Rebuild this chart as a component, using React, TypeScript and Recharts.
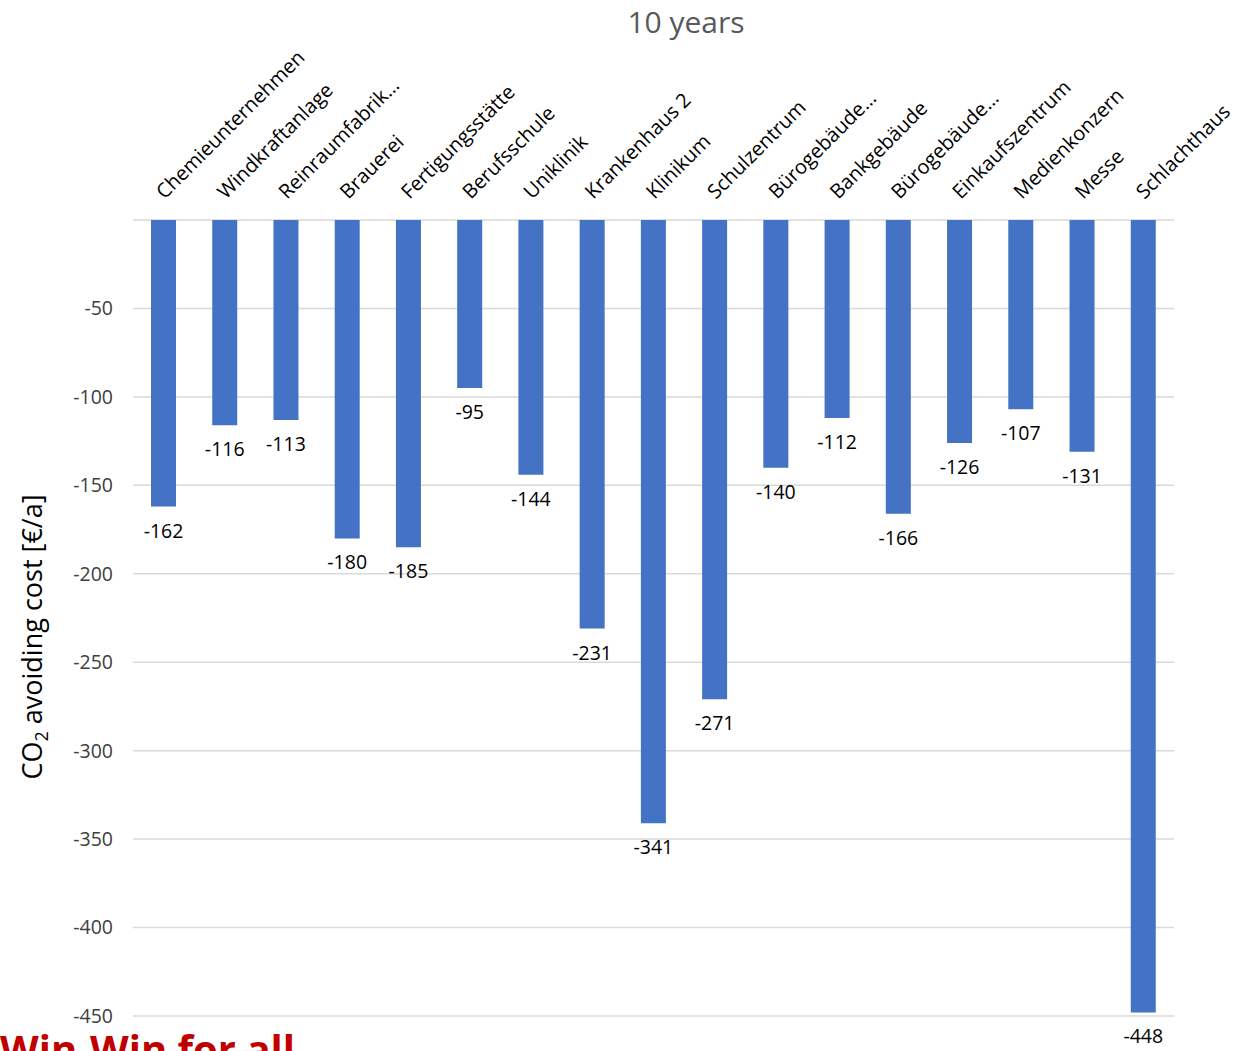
import { BarChart, Bar, XAxis, YAxis, CartesianGrid, LabelList } from 'recharts'

const sites = [
  'Chemieunternehmen',
  'Windkraftanlage',
  'Reinraumfabrik…',
  'Brauerei',
  'Fertigungsstätte',
  'Berufsschule',
  'Uniklinik',
  'Krankenhaus 2',
  'Klinikum',
  'Schulzentrum',
  'Bürogebäude…',
  'Bankgebäude',
  'Bürogebäude…',
  'Einkaufszentrum',
  'Medienkonzern',
  'Messe',
  'Schlachthaus',
]

const avoidingCost = [-162, -116, -113, -180, -185, -95, -144, -231, -341, -271, -140, -112, -166, -126, -107, -131, -448]

const yTicks = [0, -50, -100, -150, -200, -250, -300, -350, -400, -450]

const FONT = '"Open Sans", sans-serif'

const chartData = sites.map((name, i) => ({ name, cost: avoidingCost[i] }))

function SiteTick(props: any) {
  const { x, y, payload } = props
  const tx = x + 1
  const ty = y - 18
  return (
    <text
      x={tx}
      y={ty}
      transform={`rotate(-45, ${tx}, ${ty})`}
      textAnchor="start"
      fontSize={20}
      fontFamily={FONT}
      fill="#000"
    >
      {payload.value}
    </text>
  )
}

function ValueLabel(props: any) {
  const { x, y, width, height, value } = props
  const bottom = Math.max(y, y + height)
  return (
    <text
      x={x + width / 2}
      y={bottom + 31}
      textAnchor="middle"
      fontSize={19.5}
      fontFamily={FONT}
      fill="#000"
    >
      {value}
    </text>
  )
}

function AxisTitle() {
  return (
    <text
      x={42}
      y={637}
      transform="rotate(-90, 42, 637)"
      textAnchor="middle"
      fontSize={27}
      fontFamily={FONT}
      fill="#000"
    >
      CO<tspan fontSize={18} dy={6}>2</tspan>
      <tspan dy={-6}> avoiding cost [€/a]</tspan>
    </text>
  )
}

export default function App() {
  return (
    <div style={{ position: 'absolute', left: 0, top: 0, width: 1244, height: 1051, overflow: 'hidden', background: '#fff' }}>
      <div
        style={{
          position: 'absolute',
          top: 0,
          left: 0,
          width: 1372,
          textAlign: 'center',
          fontFamily: FONT,
          fontSize: 30,
          color: '#595959',
          lineHeight: '44px',
        }}
      >
        10 years
      </div>
      <BarChart
        width={1244}
        height={1051}
        data={chartData}
        margin={{ top: 0, right: 70, bottom: 35, left: 0 }}
      >
        <CartesianGrid vertical={false} stroke="#D9D9D9" strokeWidth={1.5} />
        <XAxis
          dataKey="name"
          orientation="top"
          height={220}
          axisLine={false}
          tickLine={false}
          tickSize={0}
          tick={<SiteTick />}
          interval={0}
        />
        <YAxis
          type="number"
          domain={[-450, 0]}
          ticks={yTicks}
          width={133}
          axisLine={false}
          tickLine={false}
          tickSize={0}
          tickMargin={20}
          tick={{ fontSize: 19.5, fontFamily: FONT, fill: '#404040' }}
          tickFormatter={(v: number) => (v === 0 ? '' : String(v))}
          label={<AxisTitle />}
        />
        <Bar dataKey="cost" fill="#4472C4" barSize={25} isAnimationActive={false}>
          <LabelList dataKey="cost" content={<ValueLabel />} />
        </Bar>
      </BarChart>
      <div
        style={{
          position: 'absolute',
          left: 0,
          top: 1029,
          fontFamily: FONT,
          fontWeight: 700,
          fontSize: 40,
          color: '#C00000',
          lineHeight: '40px',
          whiteSpace: 'nowrap',
        }}
      >
        Win-Win for all
      </div>
    </div>
  )
}
